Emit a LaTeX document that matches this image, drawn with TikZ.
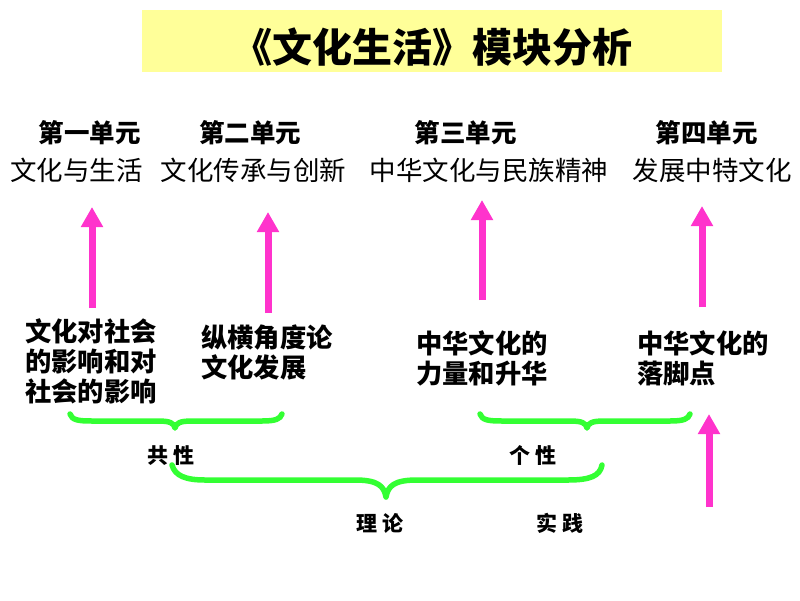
\documentclass[tikz,border=0pt]{standalone}
\usepackage{fontspec}
\newfontfamily\cjk{Noto Sans CJK SC}
\usetikzlibrary{arrows.meta}
\definecolor{titlebg}{RGB}{255,255,153}
\definecolor{arrowpink}{RGB}{255,51,204}
\definecolor{bracegreen}{RGB}{51,255,51}
\tikzset{
  title/.style={font=\cjk\fontsize{40}{44}\selectfont\bfseries, inner sep=0},
  unithead/.style={font=\cjk\fontsize{25.5}{28}\selectfont\bfseries, inner sep=0},
  unitname/.style={font=\cjk\fontsize{26.5}{30}\selectfont, inner sep=0},
  blocktext/.style={font=\cjk\fontsize{26.3}{30}\selectfont\bfseries, align=left, anchor=west, inner sep=0},
  tag/.style={font=\cjk\fontsize{21}{24}\selectfont\bfseries, inner sep=0},
  uparrow/.style={draw=arrowpink, line width=7pt, -{Triangle[width=21pt,length=20pt]}, arrowpink},
  bracestyle/.style={draw=bracegreen, line width=5.5pt, line cap=round, line join=round}
}
\begin{document}
\begin{tikzpicture}[x=1pt,y=-1pt]
\useasboundingbox (0,0) rectangle (800,600);
\fill[white] (0,0) rectangle (800,600);
% title
\fill[titlebg] (142,10) rectangle (722,72);
\node[title] (title) at (432,47) {《文化生活》模块分析};
% unit headings
\node[unithead] (h1) at (89.5,133) {第一单元};
\node[unithead] (h2) at (250,133) {第二单元};
\node[unithead] (h3) at (465.5,133) {第三单元};
\node[unithead] (h4) at (706.5,133) {第四单元};
\node[unitname] (n1) at (76.5,170) {文化与生活};
\node[unitname] (n2) at (253.5,170) {文化传承与创新};
\node[unitname] (n3) at (489,170) {中华文化与民族精神};
\node[unitname] (n4) at (712,170) {发展中特文化};
% lower blocks
\node[blocktext] (b1) at (25,361) {文化对社会\\的影响和对\\社会的影响};
\node[blocktext] (b2) at (201,352) {纵横角度论\\文化发展};
\node[blocktext] (b3) at (416,358) {中华文化的\\力量和升华};
\node[blocktext] (b4) at (637,358) {中华文化的\\落脚点};
% arrow end points
\coordinate (a1s) at (92,308); \coordinate (a1e) at (92,207);
\coordinate (a2s) at (268,313); \coordinate (a2e) at (268,212);
\coordinate (a3s) at (482,300); \coordinate (a3e) at (482,200);
\coordinate (a4s) at (702,307); \coordinate (a4e) at (702,206);
\coordinate (a5s) at (709,507); \coordinate (a5e) at (709,414);
\draw[uparrow] (a1s) -- (a1e);
\draw[uparrow] (a2s) -- (a2e);
\draw[uparrow] (a3s) -- (a3e);
\draw[uparrow] (a4s) -- (a4e);
\draw[uparrow] (a5s) -- (a5e);
% braces
\draw[bracestyle] (70,414) .. controls (72,420) and (78,421) .. (92,421)
  -- (158,421) .. controls (170,421) and (174,423) .. (175,428)
  .. controls (176,423) and (180,421) .. (192,421)
  -- (262,421) .. controls (276,421) and (280,419) .. (282,414);
\draw[bracestyle] (480,414) .. controls (482,420) and (488,421) .. (502,421)
  -- (570,421) .. controls (582,421) and (586,423) .. (587,428)
  .. controls (588,423) and (592,421) .. (604,421)
  -- (670,421) .. controls (684,421) and (688,419) .. (690,414);
\draw[bracestyle] (172,465) .. controls (175,476) and (186,480) .. (205,480)
  -- (355,480) .. controls (378,480) and (384,486) .. (386,497)
  .. controls (388,486) and (394,480) .. (417,480)
  -- (568,480) .. controls (590,480) and (600,476) .. (602,465);
% tags
\node[tag] (t1) at (171,456) {共\hspace{6pt}性};
\node[tag] (t2) at (533,455) {个\hspace{6pt}性};
\node[tag] (t3) at (380,523) {理\hspace{6pt}论};
\node[tag] (t4) at (560,523) {实\hspace{6pt}践};
\end{tikzpicture}
\end{document}
